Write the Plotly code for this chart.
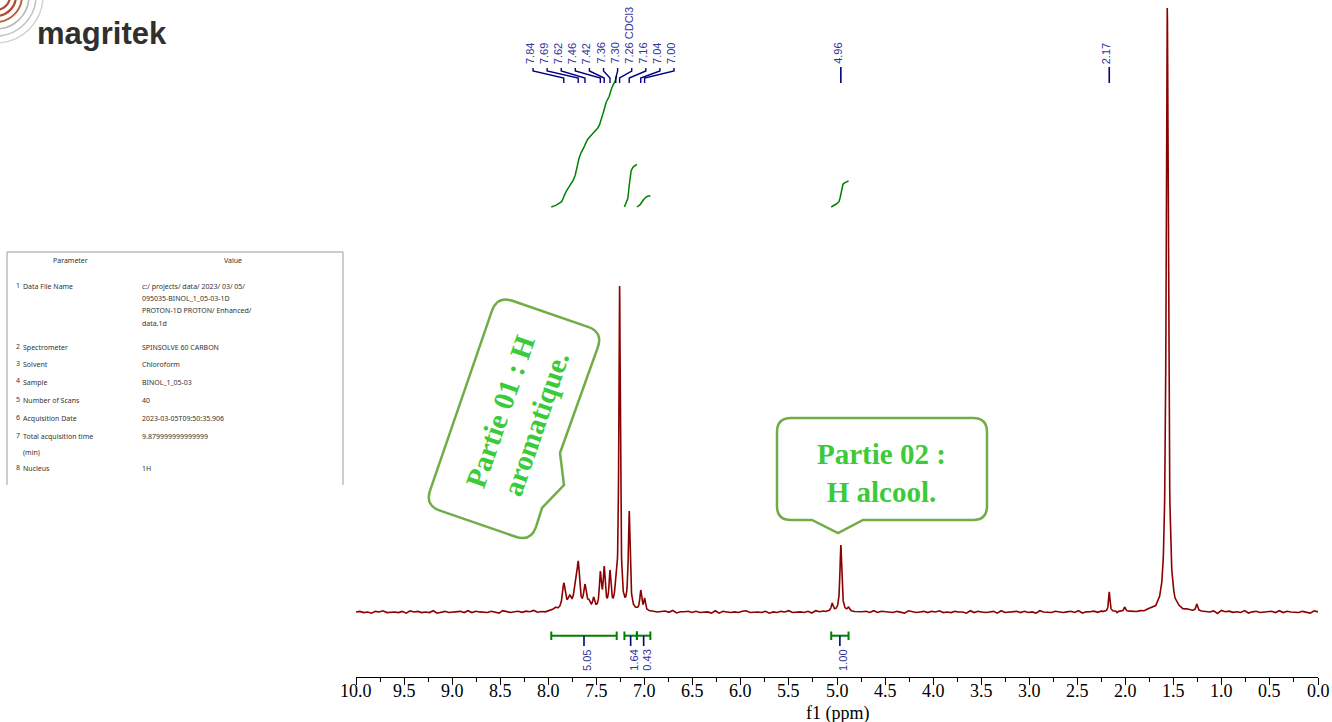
import numpy as np
import plotly.graph_objects as go

W, H = 1332, 722

# ---------------- data ----------------
peak_ppm = [7.93, 7.84, 7.78, 7.72, 7.69, 7.62, 7.58, 7.53, 7.46, 7.42, 7.36, 7.30,
            7.26, 7.16, 7.04, 7.00, 5.05, 4.96, 4.88, 2.17, 2.01, 1.567, 1.26]
peak_height = [5, 29, 17, 33, 51, 28, 13, 15, 41, 46, 42, 34,
               326, 101, 22, 14, 9, 67, 5, 20, 5, 604, 8]
peak_hwhm = [0.020, 0.018, 0.022, 0.018, 0.016, 0.016, 0.016, 0.013, 0.012, 0.012, 0.012, 0.012,
             0.009, 0.011, 0.011, 0.010, 0.012, 0.011, 0.012, 0.008, 0.010, 0.013, 0.010]

noise_digits = ("45342 54634 43526 45343 62453 44536 35443 54264 34535 46343 "
                "54426 35434 52634 45353 42644 35434 53624 45353 44262 54343 "
                "56344 35243 54634 43526 45343 52453 44536 35443 54264 34535 "
                "46343 54426 35434 52634 45353 42644 35434 53624 45353 44262 "
                "54343 56344 35243 54634 43516 45343 62453 44536 35443 54264").replace(" ", "")

tick_values = [10.0, 9.5, 9.0, 8.5, 8.0, 7.5, 7.0, 6.5, 6.0, 5.5, 5.0,
               4.5, 4.0, 3.5, 3.0, 2.5, 2.0, 1.5, 1.0, 0.5, 0.0]
tick_text = ["10.0", "9.5", "9.0", "8.5", "8.0", "7.5", "7.0", "6.5", "6.0", "5.5", "5.0",
             "4.5", "4.0", "3.5", "3.0", "2.5", "2.0", "1.5", "1.0", "0.5", "0.0"]

label_text = ["7.84", "7.69", "7.62", "7.46", "7.42", "7.36", "7.30", "7.26 CDCl3", "7.16", "7.04", "7.00"]
label_ppm = [7.84, 7.69, 7.62, 7.46, 7.42, 7.36, 7.30, 7.26, 7.16, 7.04, 7.00]
single_label_text = ["4.96", "2.17"]
single_label_ppm = [4.96, 2.17]

integral_start = [7.97, 7.21, 7.08, 5.06]
integral_end = [7.29, 7.08, 6.94, 4.88]
integral_value = [5.05, 1.64, 0.43, 1.00]
integral_text = ["5.05", "1.64", "0.43", "1.00"]

table_header = ["Parameter", "Value"]
table_index = ["1", "2", "3", "4", "5", "6", "7", "8"]
table_param = [["Data File Name"], ["Spectrometer"], ["Solvent"], ["Sample"],
               ["Number of Scans"], ["Acquisition Date"], ["Total acquisition time", "(min)"], ["Nucleus"]]
table_value = [["c:/ projects/ data/ 2023/ 03/ 05/", "095035-BINOL_1_05-03-1D",
                "PROTON-1D PROTON/ Enhanced/", "data.1d"],
               ["SPINSOLVE 60 CARBON"], ["Chloroform"], ["BINOL_1_05-03"], ["40"],
               ["2023-03-05T09:50:35.906"], ["9.879999999999999"], ["1H"]]

callout_lines = [["Partie 01 : H", "aromatique."], ["Partie 02 :", "H alcool."]]

# ---------------- layout constants (pixels) ----------------
AX_L, AX_R = 356, 1318          # x pixel of 10 ppm and 0 ppm
PX_PER_PPM = (AX_R - AX_L) / 10.0
BASE_PX = 612                   # spectrum baseline pixel row
AXIS_PX = 677                   # axis line pixel row
INT_BASE_PX = 207               # integral curve baseline
INT_PX_PER_UNIT = 26.0


def px(x, y):
    return x / W, 1 - y / H


def py(y):
    return 1 - y / H


# ---------------- spectrum model from the peak list ----------------
pk_x = np.array(peak_ppm)
pk_h = np.array(peak_height, dtype=float)
pk_w = np.array(peak_hwhm)


def lshape(x, x0, w):
    return w ** 2 / ((x - x0) ** 2 + w ** 2)


A = lshape(pk_x[:, None], pk_x[None, :], pk_w[None, :])
amp = np.clip(np.linalg.solve(A, pk_h), 0, None)


def model(x):
    x = np.asarray(x, dtype=float)
    return (amp[None, :] * lshape(x[:, None], pk_x[None, :], pk_w[None, :])).sum(axis=1)


noise = (np.array([int(c) for c in noise_digits]) - 4) * 0.6
noise_x = np.linspace(10, 0, len(noise))
fine = np.unique(np.concatenate([np.round(np.arange(p - 0.07, p + 0.0701, 0.002), 4) for p in peak_ppm]))
near = np.min(np.abs(noise_x[:, None] - pk_x[None, :]), axis=1) < 0.07
xs = np.concatenate([noise_x[~near], fine])
ns = np.concatenate([noise[~near], np.zeros(len(fine))])
order = np.argsort(-xs)
xs, ns = xs[order], ns[order]
ys = model(xs) + ns

fig = go.Figure()
fig.add_trace(go.Scatter(x=xs, y=ys, mode="lines", line=dict(color="#8B0000", width=1.6),
                         hoverinfo="skip", showlegend=False))

# integral curves
for s, e, v in zip(integral_start, integral_end, integral_value):
    xi = np.linspace(s, e, 150)
    yi = model(xi)
    cum = np.concatenate([[0], np.cumsum((yi[1:] + yi[:-1]) / 2 * np.abs(np.diff(xi)))])
    cum = cum / cum[-1] * v
    fig.add_trace(go.Scatter(x=xi, y=cum, yaxis="y2", mode="lines",
                             line=dict(color="#008000", width=1.5), hoverinfo="skip", showlegend=False))

shapes = []
annotations = []
NAVY = "#000080"
LBL = "#3333a0"
LF = dict(family="Liberation Sans, Arial", size=11, color=LBL)

# ---------------- peak labels on top ----------------
slot_center = 7.427
slot_step = 14.1 / PX_PER_PPM
for i, (t, p) in enumerate(zip(label_text, label_ppm)):
    sx = slot_center + (5 - i) * slot_step
    shapes.append(dict(type="path", xref="x", yref="paper",
                       path=f"M {sx},{py(68)} L {sx},{py(71)} L {p},{py(78)} L {p},{py(83)}",
                       line=dict(color=NAVY, width=1.4)))
    annotations.append(dict(x=sx + 3.5 / PX_PER_PPM, y=py(66), xref="x", yref="paper",
                            text=t, textangle=-90, showarrow=False, xanchor="center", yanchor="bottom",
                            font=LF))
for t, p in zip(single_label_text, single_label_ppm):
    shapes.append(dict(type="line", xref="x", yref="paper", x0=p, x1=p, y0=py(67), y1=py(83),
                       line=dict(color=NAVY, width=1.6)))
    annotations.append(dict(x=p + 3.5 / PX_PER_PPM, y=py(66), xref="x", yref="paper",
                            text=t, textangle=-90, showarrow=False, xanchor="center", yanchor="bottom",
                            font=LF))

# ---------------- integral brackets at the bottom ----------------
GREEN = "#008000"
for s, e, t in zip(integral_start, integral_end, integral_text):
    c = (s + e) / 2
    shapes.append(dict(type="line", xref="x", yref="paper", x0=s, x1=e, y0=py(635.7), y1=py(635.7),
                       line=dict(color=GREEN, width=2)))
    for q in (s, e):
        shapes.append(dict(type="line", xref="x", yref="paper", x0=q, x1=q, y0=py(631.5), y1=py(640),
                           line=dict(color=GREEN, width=2)))
    shapes.append(dict(type="line", xref="x", yref="paper", x0=c, x1=c, y0=py(636), y1=py(646),
                       line=dict(color=NAVY, width=1.6)))
    annotations.append(dict(x=c - 2.5 / PX_PER_PPM, y=py(648), xref="x", yref="paper",
                            text=t, textangle=-90, showarrow=False, xanchor="center", yanchor="top",
                            font=LF))

# ---------------- x tick labels and axis title ----------------
SERIF = "Liberation Serif, Times New Roman, serif"
for v, t in zip(tick_values, tick_text):
    annotations.append(dict(x=v, y=py(691), xref="x", yref="paper", text=t, showarrow=False,
                            xanchor="center", yanchor="middle",
                            font=dict(family=SERIF, size=18, color="black")))
annotations.append(dict(x=(AX_L + AX_R) / 2 / W, y=py(713), xref="paper", yref="paper", text="f1 (ppm)",
                        showarrow=False, xanchor="center", yanchor="middle",
                        font=dict(family=SERIF, size=18, color="black")))

# ---------------- parameter table ----------------
TGRAY = "#9a9a9a"
for (x0, y0, x1, y1) in [(7, 252, 343, 252), (7, 252, 7, 485), (343, 252, 343, 485)]:
    a, b = px(x0, y0)
    c, d = px(x1, y1)
    shapes.append(dict(type="line", xref="paper", yref="paper", x0=a, y0=b, x1=c, y1=d,
                       line=dict(color=TGRAY, width=1)))
TF = dict(family="Noto Sans, Open Sans, Arial", size=7, color="#333333")
annotations.append(dict(x=70 / W, y=py(260), xref="paper", yref="paper", text=table_header[0],
                        showarrow=False, xanchor="center", yanchor="middle", font=TF))
annotations.append(dict(x=233 / W, y=py(260), xref="paper", yref="paper", text=table_header[1],
                        showarrow=False, xanchor="center", yanchor="middle", font=TF))
row_y = [286, 347, 365, 382, 400, 418, 436, 468]
sub_step = 12.4
for idx, pr, vl, yy in zip(table_index, table_param, table_value, row_y):
    annotations.append(dict(x=14 / W, y=py(yy - 1), xref="paper", yref="paper", text=idx,
                            showarrow=False, xanchor="left", yanchor="middle", font=TF))
    for k, line in enumerate(pr):
        annotations.append(dict(x=21 / W, y=py(yy + k * 16), xref="paper", yref="paper", text=line,
                                showarrow=False, xanchor="left", yanchor="middle", font=TF))
    for k, line in enumerate(vl):
        annotations.append(dict(x=140 / W, y=py(yy + k * sub_step), xref="paper", yref="paper", text=line,
                                showarrow=False, xanchor="left", yanchor="middle", font=TF))

# ---------------- logo ----------------
annotations.append(dict(x=35 / W, y=py(34), xref="paper", yref="paper", text="<b>magritek</b>",
                        showarrow=False, xanchor="left", yanchor="middle",
                        font=dict(family="Liberation Sans, Arial", size=31, color="#303030")))
kap = 0.5523
for R, col, wd in [(14, "#b04a30", 2.2), (20, "#b04a30", 2.2), (26, "#c0603e", 2.0),
                   (33, "#b8b8b8", 1.6), (40, "#c4c4c4", 1.6), (47, "#d0d0d0", 1.4)]:
    cx, cy = -4, -4
    pts = [(cx + R, cy), (cx + R, cy + kap * R), (cx + kap * R, cy + R), (cx, cy + R)]
    pp = [px(*q) for q in pts]
    path = (f"M {pp[0][0]},{pp[0][1]} C {pp[1][0]},{pp[1][1]} {pp[2][0]},{pp[2][1]} {pp[3][0]},{pp[3][1]}")
    shapes.append(dict(type="path", xref="paper", yref="paper", path=path, line=dict(color=col, width=wd)))


# ---------------- callouts ----------------
def callout_path(center, U, V, eu, ev, r, pointer_edge=None, pointer_pts=()):
    cx, cy = center

    def loc(u, v):
        return np.array([cx + u * eu[0] + v * ev[0], cy + u * eu[1] + v * ev[1]])

    corners = [loc(U, -V), loc(U, V), loc(-U, V), loc(-U, -V)]

    def unit(a, b):
        d = b - a
        return d / np.linalg.norm(d)

    segs = [("M", corners[0] + r * unit(corners[0], corners[1]))]
    for i in range(4):
        a, b = corners[i], corners[(i + 1) % 4]
        c2 = corners[(i + 2) % 4]
        if pointer_edge == i:
            for q in pointer_pts:
                segs.append(("L", np.array(q, dtype=float)))
        segs.append(("L", b - r * unit(a, b)))
        segs.append(("Q", b, b + r * unit(b, c2)))
    out = []
    for s in segs:
        if s[0] in ("M", "L"):
            x, y = px(*s[1])
            out.append(f"{s[0]} {x:.5f},{y:.5f}")
        else:
            x1, y1 = px(*s[1])
            x2, y2 = px(*s[2])
            out.append(f"Q {x1:.5f},{y1:.5f} {x2:.5f},{y2:.5f}")
    return " ".join(out) + " Z"


CG = "#70AD47"
ang = np.deg2rad(71)
eu1 = (np.cos(ang), -np.sin(ang))
ev1 = (np.sin(ang), np.cos(ang))
p1 = callout_path((514, 418.75), 111, 56, eu1, ev1, 16, pointer_edge=1,
                  pointer_pts=[(560, 453), (564, 485), (542, 508)])
p2 = callout_path((882, 469), 51, 105, (0, -1), (1, 0), 14, pointer_edge=2,
                  pointer_pts=[(863, 520), (838, 533), (812, 520)])
for p in (p1, p2):
    shapes.append(dict(type="path", xref="paper", yref="paper", path=p,
                       line=dict(color=CG, width=2.5), fillcolor="white", layer="above"))

CF = dict(family=SERIF, size=29, color="#3ACB3A")
annotations.append(dict(x=518 / W, y=py(418), xref="paper", yref="paper",
                        text="<br>".join("<b>" + s + "</b>" for s in callout_lines[0]),
                        textangle=-71, showarrow=False, xanchor="center", yanchor="middle", align="center", font=CF))
annotations.append(dict(x=881 / W, y=py(473), xref="paper", yref="paper",
                        text="<br>".join("<b>" + s + "</b>" for s in callout_lines[1]),
                        showarrow=False, xanchor="center", yanchor="middle", align="center", font=CF))

fig.update_layout(
    width=W, height=H, autosize=False, margin=dict(l=0, r=0, t=0, b=0, pad=0),
    paper_bgcolor="white", plot_bgcolor="white", showlegend=False,
    xaxis=dict(range=[10, 0], domain=[AX_L / W, AX_R / W], anchor="free", position=1 - AXIS_PX / H,
               automargin=False,
               showline=True, linecolor="black", linewidth=1, showgrid=False, zeroline=False,
               ticks="outside", ticklen=7, tickcolor="black", tickwidth=1, dtick=0.5, tick0=0,
               showticklabels=False,
               minor=dict(dtick=0.25, ticks="outside", ticklen=3.5, tickcolor="black", showgrid=False)),
    yaxis=dict(range=[-(H - BASE_PX), BASE_PX], domain=[0, 1], visible=False, fixedrange=True,
               automargin=False),
    yaxis2=dict(range=[-(H - INT_BASE_PX) / INT_PX_PER_UNIT, INT_BASE_PX / INT_PX_PER_UNIT],
                overlaying="y", visible=False, automargin=False),
    shapes=shapes, annotations=annotations,
)

fig.write_html("out.html", include_plotlyjs=True,
               config={"displayModeBar": False, "responsive": False},
               post_script="document.body.style.margin='0px';document.body.style.overflow='hidden';")
